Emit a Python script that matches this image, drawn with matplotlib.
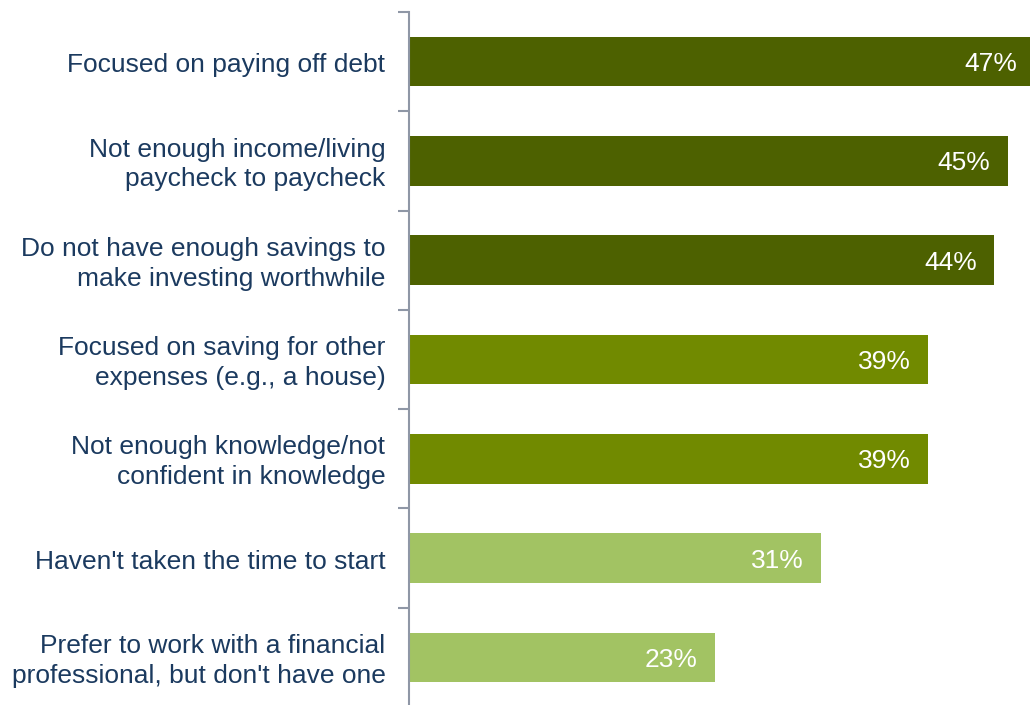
import numpy as np
import matplotlib.pyplot as plt
import matplotlib.transforms as mtransforms

# данные
categories = [
    "Focused on paying off debt",
    "Not enough income/living\npaycheck to paycheck",
    "Do not have enough savings to\nmake investing worthwhile",
    "Focused on saving for other\nexpenses (e.g., a house)",
    "Not enough knowledge/not\nconfident in knowledge",
    "Haven't taken the time to start",
    "Prefer to work with a financial\nprofessional, but don't have one",
]
values = [47, 45, 44, 39, 39, 31, 23]
bar_colors = ["#4d6100", "#4d6100", "#4d6100", "#718a00", "#718a00", "#a2c363", "#a2c363"]

text_color = "#1b3a5f"
spine_color = "#8f97a6"

plt.rcParams['font.family'] = ['Liberation Sans', 'DejaVu Sans']

fig = plt.figure(figsize=(10.3, 7.05), dpi=100)
ax = fig.add_axes([409 / 1030, -2 / 705, 1 - 409 / 1030, 1 - 12 / 705 + 2 / 705])

y = np.arange(len(categories))
bars = ax.barh(y, values, height=0.5, color=bar_colors)

for b, v in zip(bars, values):
    ax.text(v - 1.3, b.get_y() + b.get_height() / 2, f"{v}%",
            ha='right', va='center_baseline', color='white', fontsize=19)

ax.set_xlim(0, 621 / 13.3)
ax.set_ylim(len(categories) - 0.5, -0.5)

ax.set_yticks(y)
ax.set_yticklabels(categories, color=text_color, fontsize=19, ha='right',
                   linespacing=1.3, va='center')
ax.tick_params(axis='y', which='major', length=0, pad=17)
ax.set_yticks(np.arange(-0.5, len(categories)), minor=True)
ax.tick_params(axis='y', which='minor', length=8, width=1.5, color=spine_color)
ax.set_xticks([])

# сдвигаем подписи чуть вниз
offset = mtransforms.ScaledTranslation(0, -3.5 / 100, fig.dpi_scale_trans)
for lbl in ax.get_yticklabels():
    lbl.set_transform(lbl.get_transform() + offset)

for s in ['top', 'right', 'bottom']:
    ax.spines[s].set_visible(False)
ax.spines['left'].set_color(spine_color)
ax.spines['left'].set_linewidth(1.5)

fig.savefig("out.png", dpi=100)
